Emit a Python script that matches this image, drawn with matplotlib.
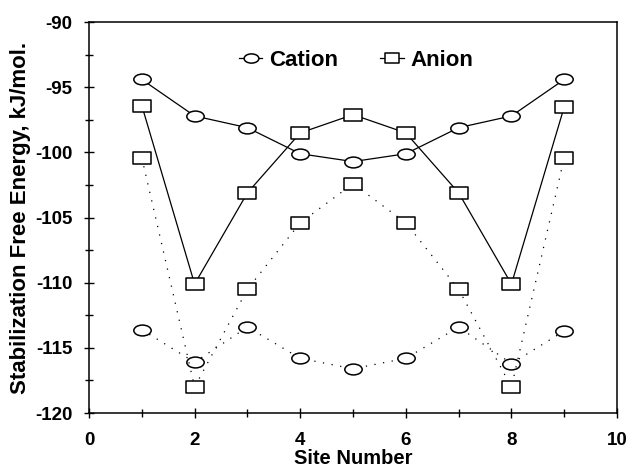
import numpy as np
import matplotlib
matplotlib.use("Agg")
import matplotlib.pyplot as plt
from matplotlib.path import Path
from matplotlib.ticker import MultipleLocator

plt.rcParams['font.family'] = ['Liberation Sans', 'DejaVu Sans']
plt.rcParams['font.weight'] = 'bold'
plt.rcParams['axes.unicode_minus'] = False

# data
sites = [1, 2, 3, 4, 5, 6, 7, 8, 9]
cation_solid = [-94.4, -97.2, -98.1, -100.1, -100.7, -100.1, -98.1, -97.2, -94.4]
anion_solid = [-96.4, -110.1, -103.1, -98.5, -97.1, -98.5, -103.1, -110.1, -96.5]
cation_dotted = [-113.6, -116.1, -113.4, -115.8, -116.6, -115.8, -113.4, -116.2, -113.7]
anion_dotted = [-100.4, -118.0, -110.5, -105.4, -102.4, -105.4, -110.5, -118.0, -100.4]

# wide ellipse / wide rectangle markers like the original
circ = Path.unit_circle()
ellipse = Path(circ.vertices * np.array([1.6, 1.0]), circ.codes)
rect = Path([(-1.5, -1), (1.5, -1), (1.5, 1), (-1.5, 1), (-1.5, -1)],
            [Path.MOVETO, Path.LINETO, Path.LINETO, Path.LINETO, Path.CLOSEPOLY])

fig = plt.figure(figsize=(6.29, 4.71), dpi=100)
ax = fig.add_axes([0.1415, 0.123, 0.8395, 0.830])

mk = dict(markersize=12.5, markerfacecolor='white', markeredgecolor='black',
          markeredgewidth=1.1, color='black', lw=0.9)
dots = (0, (1, 6))

ax.plot(sites, cation_dotted, linestyle=dots, marker=ellipse, zorder=2, **mk)
ax.plot(sites, anion_dotted, linestyle=dots, marker=rect, zorder=2, **mk)
ax.plot(sites, cation_solid, linestyle='-', marker=ellipse, label='Cation', zorder=3, **mk)
ax.plot(sites, anion_solid, linestyle='-', marker=rect, label='Anion', zorder=3, **mk)

ax.set_xlim(0, 10)
ax.set_ylim(-120, -90)
ax.xaxis.set_major_locator(MultipleLocator(2))
ax.xaxis.set_minor_locator(MultipleLocator(1))
ax.yaxis.set_major_locator(MultipleLocator(5))
ax.yaxis.set_minor_locator(MultipleLocator(2.5))
ax.tick_params(which='major', direction='inout', length=7.5, width=1, labelsize=13.5)
ax.tick_params(axis='y', which='major', pad=8)
ax.tick_params(axis='x', which='major', pad=10)
ax.tick_params(which='minor', direction='inout', length=6, width=1)
for lab in ax.get_xticklabels() + ax.get_yticklabels():
    lab.set_fontweight('bold')
for s in ax.spines.values():
    s.set_linewidth(1.1)

ax.set_xlabel('Site Number', fontsize=14.5, fontweight='bold', labelpad=0)
ax.set_ylabel('Stabilization Free Energy, kJ/mol.', fontsize=16, fontweight='bold', labelpad=3)

leg = ax.legend(loc='center', bbox_to_anchor=(0.506, 0.903), ncol=2, frameon=False,
                handlelength=1.05, handletextpad=0.3, columnspacing=1.9,
                markerscale=0.85, borderpad=0, prop={'weight': 'bold', 'size': 16})

fig.savefig('out.png', dpi=100)
